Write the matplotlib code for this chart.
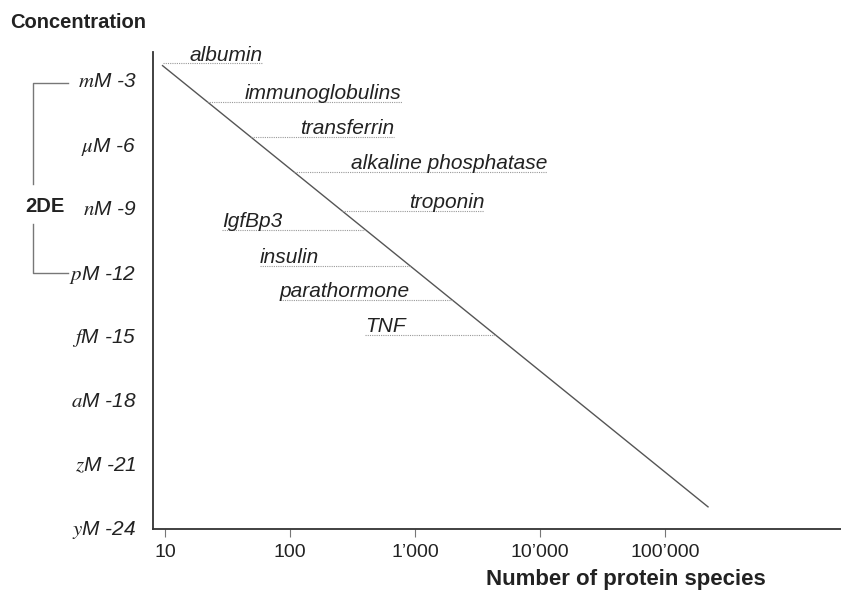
import numpy as np
import matplotlib.pyplot as plt
from matplotlib.lines import Line2D

plt.rcParams['font.family'] = ['Liberation Sans', 'DejaVu Sans']
plt.rcParams['mathtext.fontset'] = 'stix'

# y axis: concentration as power of ten (molar)
conc_ticks = [-3, -6, -9, -12, -15, -18, -21, -24]
conc_prefix = [r'$\mathit{m}$', r'$\mu$', r'$\mathit{n}$', r'$\mathit{p}$',
               r'$\mathit{f}$', r'$\mathit{a}$', r'$\mathit{z}$', r'$\mathit{y}$']

# x axis: number of protein species
species_ticks = [10, 100, 1000, 10000, 100000]
species_labels = ['10', '100', '1’000', '10’000', '100’000']

# diagonal trend line (species, log concentration)
trend_species = [9.56, 2.21e5]
trend_conc = [-2.33, -23.05]

# proteins
proteins = ['albumin', 'immunoglobulins', 'transferrin', 'alkaline phosphatase',
            'troponin', 'IgfBp3', 'insulin', 'parathormone', 'TNF']
protein_conc = [-2.22, -4.03, -5.68, -7.32, -9.15, -10.04, -11.73, -13.33, -14.97]
label_species = [15.8, 43.7, 120, 307, 890, 28.6, 57.5, 83, 398]

text_col = '#222222'
fig = plt.figure(figsize=(8.41, 5.93), dpi=100)
ax = fig.add_axes([153/841, 1-529/593, 1-153/841, (529-52)/593])
ax.set_xscale('log')
ax.set_xlim(8.02, 2.56e6)
ax.set_ylim(-24.09, -1.69)

ax.spines['top'].set_visible(False)
ax.spines['right'].set_visible(False)
for s in ['left', 'bottom']:
    ax.spines[s].set_color('#333333')
    ax.spines[s].set_linewidth(1.3)

ax.set_yticks(conc_ticks)
ax.set_yticklabels([p + 'M ' + str(v) for p, v in zip(conc_prefix, conc_ticks)],
                   fontsize=15, fontstyle='italic', color=text_col)
ax.tick_params(axis='y', length=0, pad=12)
ax.set_xticks(species_ticks)
ax.set_xticklabels(species_labels, fontsize=14, color=text_col)
ax.minorticks_off()
ax.tick_params(axis='x', length=6, width=0.8, color='#777777', pad=5)

ax.plot(trend_species, trend_conc, color='#555555', lw=1.0)

lt, lc = np.log10(trend_species), trend_conc
fig.canvas.draw()
inv = ax.transData.inverted()
for name, c, lx in zip(proteins, protein_conc, label_species):
    t = ax.annotate(name, (lx, c), xytext=(0, 2), textcoords='offset points',
                    fontsize=15, fontstyle='italic', color=text_col,
                    ha='left', va='baseline')
    fig.canvas.draw()
    bb = t.get_window_extent()
    x_end = inv.transform((bb.x1, 0))[0]
    dx = 10 ** np.interp(c, lc[::-1], lt[::-1])
    x0, x1 = min(dx, lx), max(dx, x_end)
    ax.plot([x0, x1], [c, c], color='#999999', lw=0.8, ls=(0, (1, 1)))

fig.text(10/841, 1-22/593, 'Concentration', fontsize=14.5, fontweight='bold',
         color=text_col, ha='left', va='center')
fig.text(626/841, 1-580/593, 'Number of protein species', fontsize=16,
         fontweight='bold', color=text_col, ha='center', va='center')
fig.text(45/841, 1-207/593, '2DE', fontsize=14.5, fontweight='bold',
         color=text_col, ha='center', va='center')

# bracket for 2DE range
bx = [33/841, 68/841]
def fy(p):
    return 1 - p/593
for seg in [([bx[1], bx[0], bx[0]], [fy(83), fy(83), fy(184)]),
            ([bx[0], bx[0], bx[1]], [fy(224), fy(273), fy(273)])]:
    fig.add_artist(Line2D(seg[0], seg[1], color='#777777', lw=1.0))

fig.savefig('out.png', dpi=100)
